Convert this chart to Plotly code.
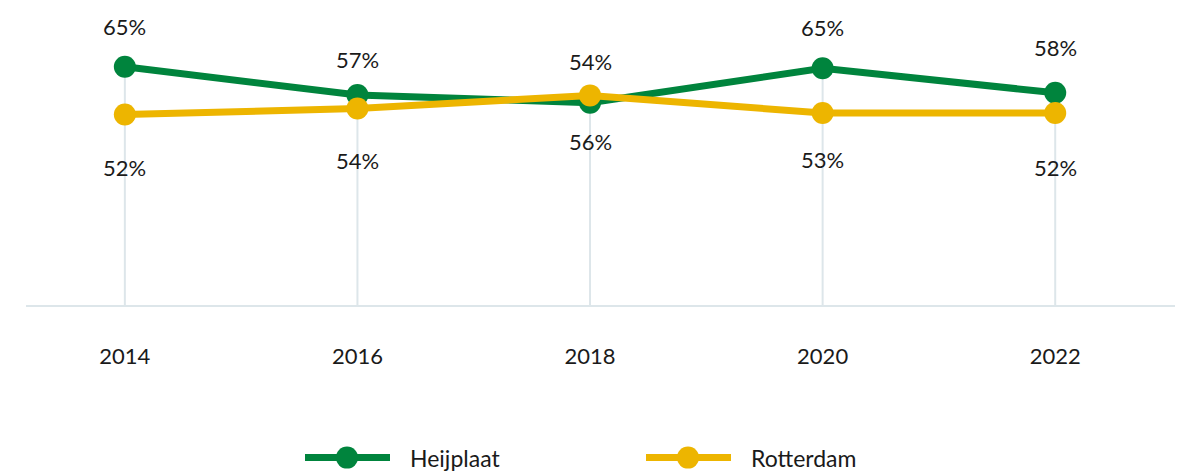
import plotly.graph_objects as go

years = [2014, 2016, 2018, 2020, 2022]
year_labels = ["2014", "2016", "2018", "2020", "2022"]

heijplaat_values = [65, 57.3, 55.2, 64.6, 57.9]
heijplaat_labels = ["65%", "57%", "56%", "65%", "58%"]

rotterdam_values = [52, 53.6, 57.2, 52.4, 52.4]
rotterdam_labels = ["52%", "54%", "54%", "53%", "52%"]

series_names = ["Heijplaat", "Rotterdam"]

GREEN = "#00843D"
YELLOW = "#EDB500"
GRID = "#dde6ea"
TEXT = "#1a1a1a"
FONT = "Lato"

# label vertical offsets (px) relative to each point
heij_shift = [40, 36, -39, 41, 45]
rot_shift = [-53, -52, 34, -47, -55]

# plot area in pixels (for legend placement)
W, H = 1183, 471
PL, PR, PT, PB = 26, 1175, 10, 304.6


def px_x(p):
    return (p - PL) / (PR - PL)


def px_y(p):
    return (PB - p) / (PB - PT)


fig = go.Figure()

# drop lines from each point down to the baseline
for x, h, r in zip(years, heijplaat_values, rotterdam_values):
    fig.add_shape(type="line", xref="x", yref="y", x0=x, x1=x, y0=0, y1=max(h, r),
                  line=dict(color=GRID, width=2), layer="below")

colors = [GREEN, YELLOW]
for name, vals, col in zip(series_names, [heijplaat_values, rotterdam_values], colors):
    fig.add_trace(go.Scatter(x=years, y=vals, name=name, mode="lines+markers",
                             line=dict(color=col, width=7), marker=dict(color=col, size=22),
                             hoverinfo="skip", showlegend=False))

for vals, labs, shifts in ((heijplaat_values, heijplaat_labels, heij_shift),
                           (rotterdam_values, rotterdam_labels, rot_shift)):
    for x, v, t, s in zip(years, vals, labs, shifts):
        fig.add_annotation(x=x, y=v, text=t, showarrow=False, yshift=s,
                           font=dict(family=FONT, size=22, color=TEXT))

# custom legend (wide symbols as in the reference)
legend_marker_px = [347, 688]
legend_y_px = 457
for name, col, mx in zip(series_names, colors, legend_marker_px):
    fig.add_shape(type="line", xref="paper", yref="paper", xsizemode="pixel", ysizemode="pixel",
                  xanchor=px_x(mx), yanchor=px_y(legend_y_px), x0=-42, x1=43, y0=0, y1=0,
                  line=dict(color=col, width=7))
    fig.add_shape(type="circle", xref="paper", yref="paper", xsizemode="pixel", ysizemode="pixel",
                  xanchor=px_x(mx), yanchor=px_y(legend_y_px), x0=-11, x1=11, y0=-11, y1=11,
                  fillcolor=col, line=dict(width=0))
    fig.add_annotation(x=px_x(mx + 61), y=px_y(legend_y_px), xref="paper", yref="paper",
                       text=name, showarrow=False, xanchor="left", yanchor="middle",
                       font=dict(family=FONT, size=23, color=TEXT))

fig.update_layout(
    width=W, height=H,
    margin=dict(l=PL, r=W - PR, t=PT, b=H - PB),
    paper_bgcolor="white", plot_bgcolor="white",
    font=dict(family=FONT, color=TEXT),
    showlegend=False,
    xaxis=dict(range=[2013.15, 2023.03], tickvals=years, ticktext=year_labels,
               showgrid=False, zeroline=False, showline=True, linecolor=GRID, linewidth=2,
               ticks="", ticklabelstandoff=31, tickfont=dict(family=FONT, size=22, color=TEXT),
               fixedrange=True),
    yaxis=dict(range=[0, 80.5], visible=False, showgrid=False, zeroline=False, fixedrange=True),
)

fig.write_html("out.html", config={"displayModeBar": False},
               post_script="document.body.style.margin='0';")
